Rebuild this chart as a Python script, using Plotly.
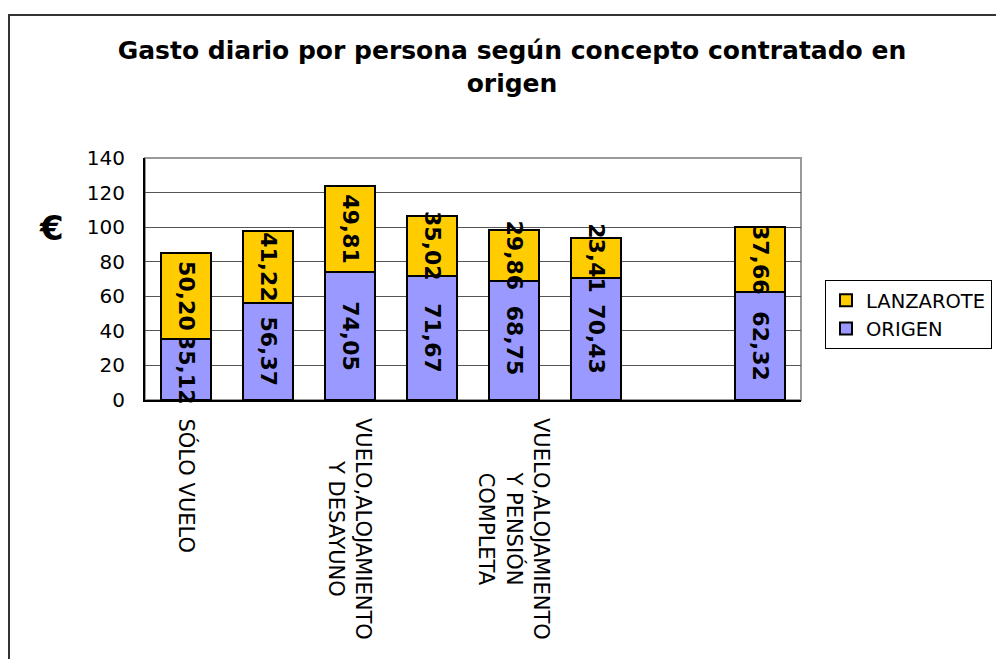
import plotly.graph_objects as go

categories = ["SÓLO VUELO", "", "VUELO,ALOJAMIENTO<br>Y DESAYUNO", "",
              "VUELO,ALOJAMIENTO<br>Y PENSIÓN<br>COMPLETA", "", "", ""]
origen = [35.12, 56.37, 74.05, 71.67, 68.75, 70.43, None, 62.32]
lanzarote = [50.20, 41.22, 49.81, 35.02, 29.86, 23.41, None, 37.66]
y_ticks = [0, 20, 40, 60, 80, 100, 120, 140]

x = list(range(len(categories)))

def fmt(vals):
    return ["" if v is None else f"{v:.2f}".replace(".", ",") for v in vals]

FONT = "DejaVu Sans"
OFF = 8  # page body margin
W, H = 1004 - OFF, 659 - OFF
L, R, T, B = 145 - OFF, 801 - OFF, 158 - OFF, 400 - OFF
pw, ph = R - L, B - T

def px(xp):
    return (xp - OFF - L) / pw

def py(yp):
    return (B - (yp - OFF)) / ph

fig = go.Figure()
for name, vals, color in [("ORIGEN", origen, "#9999FF"), ("LANZAROTE", lanzarote, "#FFCC00")]:
    fig.add_trace(go.Bar(
        x=x, y=vals, name=name, text=fmt(vals),
        marker=dict(color=color, line=dict(color="black", width=2)),
        textposition="inside", insidetextanchor="middle", textangle=90,
        constraintext="none", cliponaxis=False,
        textfont=dict(family=FONT, size=22, color="black", weight="bold"),
    ))

fig.update_layout(
    width=W, height=H,
    margin=dict(l=L, r=W - R, t=T, b=H - B, autoexpand=False),
    barmode="stack", bargap=0.39,
    plot_bgcolor="white", paper_bgcolor="white",
    font=dict(family=FONT, size=20, color="black"),
    title=dict(text="<b>Gasto diario por persona según concepto contratado en<br>origen</b>",
               x=(512 - OFF) / W, xanchor="center", y=1 - (59 - OFF) / H, yanchor="top",
               font=dict(family=FONT, size=25, color="black")),
    legend=dict(x=px(825), y=py(280), xanchor="left", yanchor="top",
                bordercolor="black", borderwidth=1, traceorder="reversed",
                font=dict(family=FONT, size=19.5, color="black"),
                itemwidth=30, tracegroupgap=0),
    showlegend=True,
)
fig.update_xaxes(
    tickvals=x, range=[-0.5, len(x) - 0.5], showticklabels=False,
    showgrid=False, showline=True, linecolor="black", linewidth=2, ticks="",
)
fig.update_yaxes(
    range=[0, 140], tickvals=y_ticks, showgrid=True, gridcolor="#555555",
    gridwidth=1, showline=True, linecolor="black", linewidth=2, ticks="",
    tickfont=dict(family=FONT, size=20, color="black"), ticklabelstandoff=14,
    zeroline=False,
)
# category labels, rotated and centred per line
for xi, lab in zip(x, categories):
    if lab:
        fig.add_annotation(text=lab, x=xi, xref="x", y=0, yref="paper",
                           yanchor="top", xanchor="center", yshift=-16,
                           textangle=90, align="center", showarrow=False,
                           font=dict(family=FONT, size=21, color="black"))
# plot area border (top/right gray)
fig.add_shape(type="rect", xref="paper", yref="paper", x0=0, x1=1, y0=0, y1=1,
              line=dict(color="#999999", width=2), layer="below")
# outer chart border
fig.add_shape(type="rect", xref="paper", yref="paper",
              x0=px(9), x1=px(1030), y0=py(690), y1=py(15),
              line=dict(color="#333333", width=2))
fig.add_annotation(text="<b>€</b>", xref="paper", yref="paper", x=px(51), y=py(228),
                   showarrow=False, font=dict(family=FONT, size=34, color="black"),
                   xanchor="center", yanchor="middle")

fig.write_html("out.html")
